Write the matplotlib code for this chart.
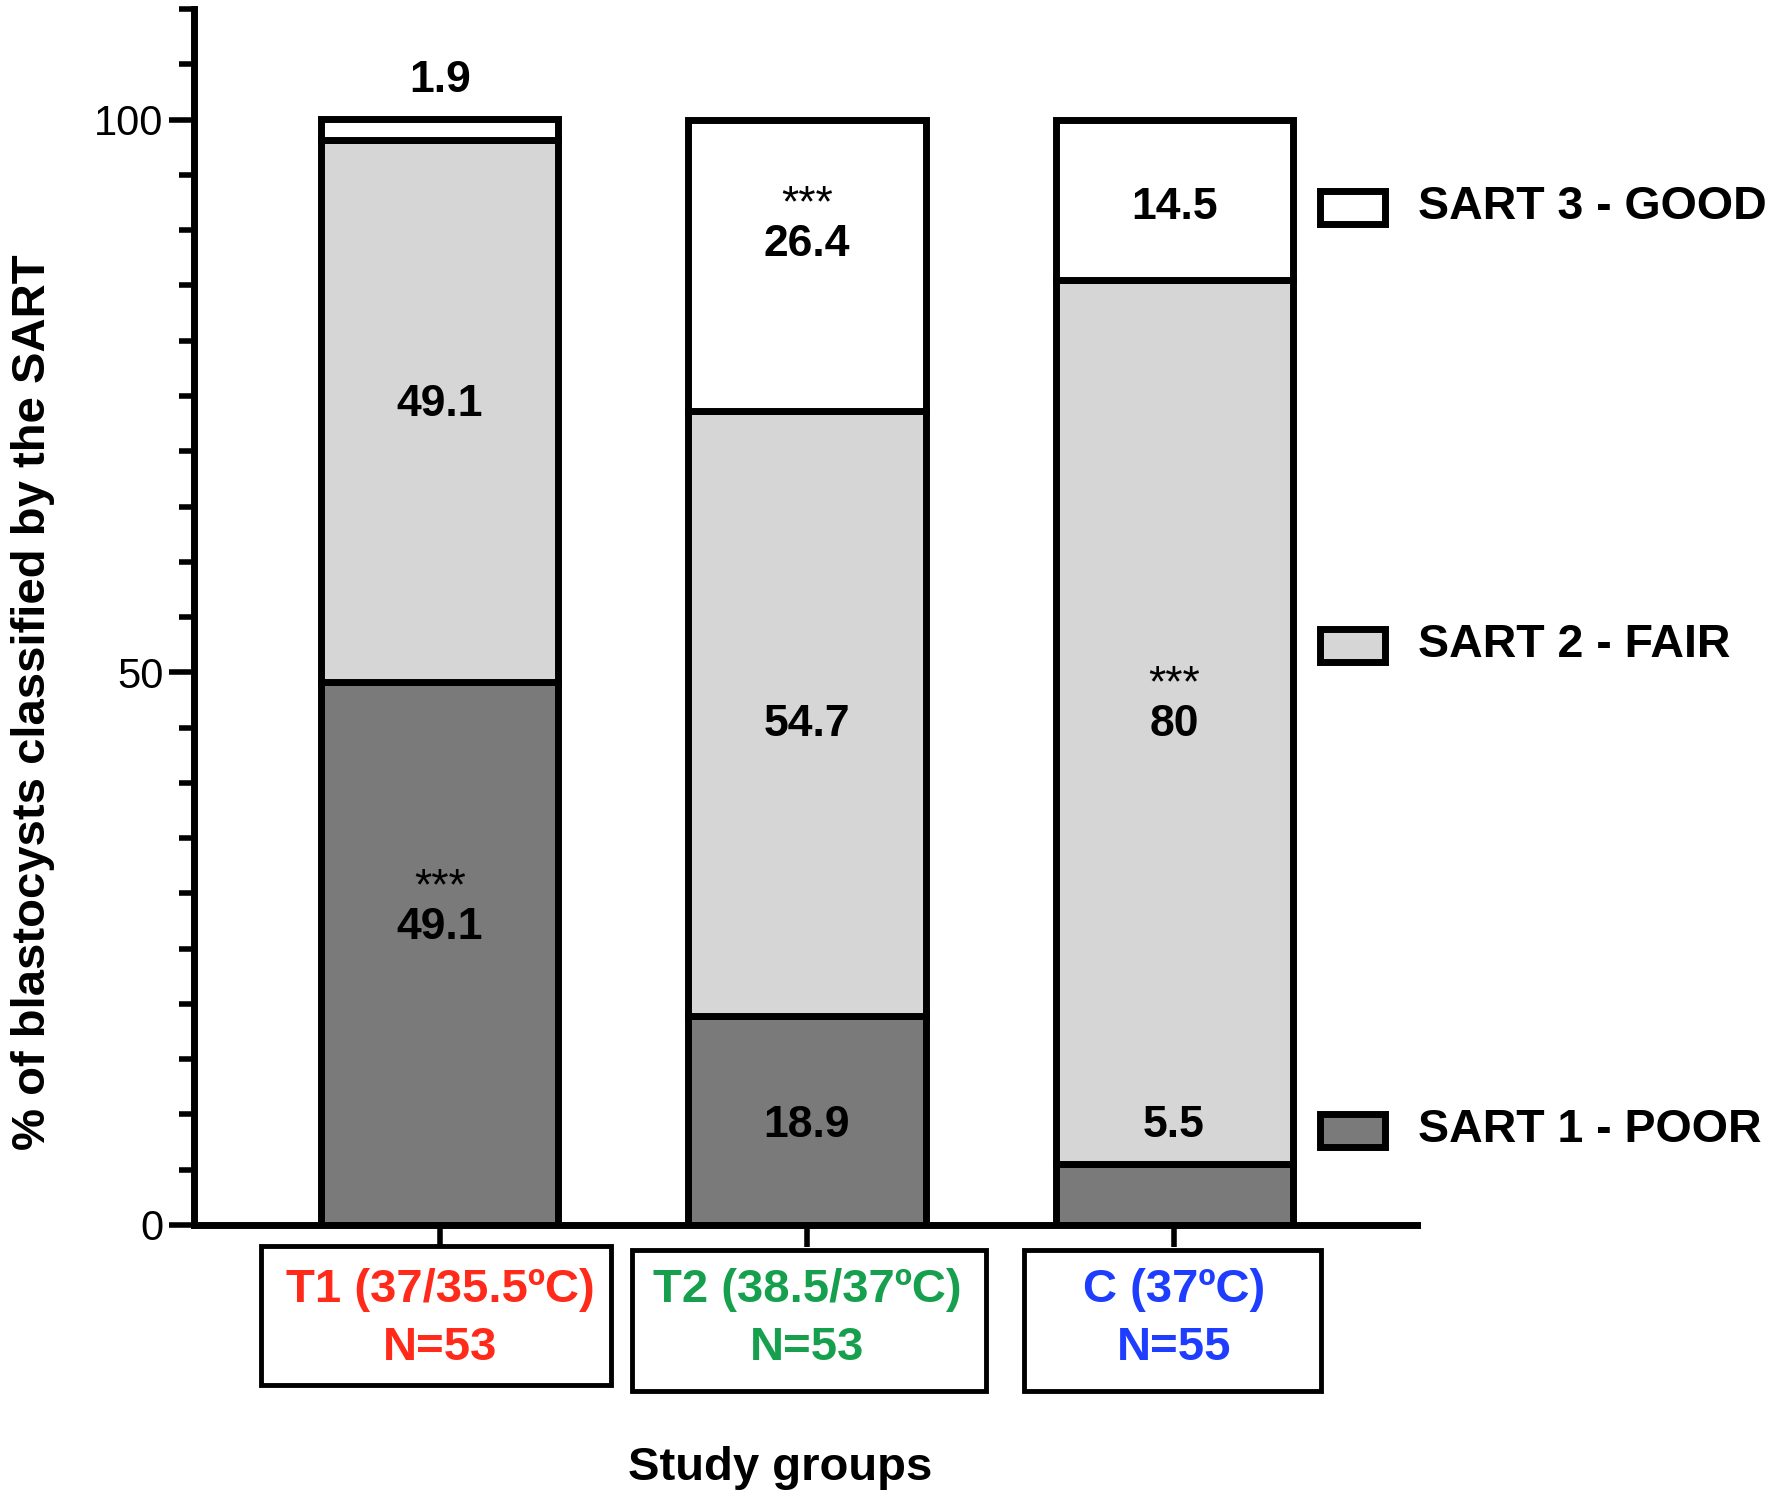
import matplotlib
matplotlib.use("Agg")
import matplotlib.pyplot as plt
from matplotlib.patches import Rectangle
import numpy as np

# data
groups = ["T1 (37/35.5ºC)\nN=53", "T2 (38.5/37ºC)\nN=53", "C (37ºC)\nN=55"]
group_colors = ["#ff2a1a", "#16a04e", "#1f3dff"]
poor = [49.1, 18.9, 5.5]
fair = [49.1, 54.7, 80.0]
good = [1.9, 26.4, 14.5]
series_names = ["SART 1 - POOR", "SART 2 - FAIR", "SART 3 - GOOD"]
series_colors = ["#7a7a7a", "#d6d6d6", "#ffffff"]

# value labels: (group index, y position, text, with stars)
labels = [
    (0, 103.5, "1.9", False),
    (0, 74.2, "49.1", False),
    (0, 26.9, "49.1", True),
    (1, 88.7, "26.4", True),
    (1, 45.3, "54.7", False),
    (1, 9.0, "18.9", False),
    (2, 92.1, "14.5", False),
    (2, 45.3, "80", True),
    (2, 9.0, "5.5", False),
]

NARROW = ["Liberation Sans Narrow", "Liberation Sans", "DejaVu Sans"]
plt.rcParams['font.family'] = ["Liberation Sans", "DejaVu Sans"]

fig = plt.figure(figsize=(17.7, 15.01), dpi=100)
ax = fig.add_axes([0.1096, 0.1839, 0.691, 0.810])

x = np.arange(len(groups))
width = 0.646
lw = 5
bottom = np.zeros(len(groups))
handles = []
for vals, name, col in zip([poor, fair, good], series_names, series_colors):
    b = ax.bar(x, vals, width, bottom=bottom, color=col, edgecolor="black",
               linewidth=lw, label=name, zorder=2)
    handles.append(b)
    bottom += np.array(vals)

for gi, yv, txt, stars in labels:
    ax.text(x[gi], yv, txt, ha="center", va="center", fontsize=32,
            fontweight="bold", zorder=3)
    if stars:
        ax.text(x[gi], yv + 3.6, "***", ha="center", va="center",
                fontsize=32, zorder=3)

ax.set_xlim(-0.67, 2.662)
ax.set_ylim(0, 110)
ax.set_yticks([0, 50, 100])
ax.set_yticks(np.arange(0, 111, 5), minor=True)
ax.set_yticklabels(["0", "50", "100"], family=NARROW, fontsize=30)
ax.tick_params(axis="y", which="major", length=18, width=4, pad=4)
ax.tick_params(axis="y", which="minor", length=11, width=4)

ax.set_xticks(x)
ax.set_xticklabels(groups, family=NARROW, fontsize=34, fontweight="bold",
                   linespacing=1.4)
for lab, c in zip(ax.get_xticklabels(), group_colors):
    lab.set_color(c)
ax.tick_params(axis="x", length=16, width=4, pad=15)

# boxes round the group labels
box_x = [(-0.01 - 0.477, 0.954), (1.005 - 0.482, 0.965), (1.995 - 0.405, 0.81)]
box_y = [(-0.132, 0.115), (-0.1365, 0.116), (-0.1365, 0.116)]
for (bx, bw), (by, bh) in zip(box_x, box_y):
    ax.add_patch(Rectangle((bx, by), bw, bh, transform=ax.get_xaxis_transform(),
                           fill=False, edgecolor="black", linewidth=3.5,
                           clip_on=False, zorder=1))

for side in ["top", "right"]:
    ax.spines[side].set_visible(False)
for side in ["left", "bottom"]:
    ax.spines[side].set_linewidth(5)

ax.set_ylabel("% of blastocysts classified by the SART", family=NARROW,
              fontsize=34, fontweight="bold")
ax.yaxis.set_label_coords(-0.114, 0.43)
fig.text(0.441, 0.022, "Study groups", ha="center", va="center",
         family=NARROW, fontsize=34, fontweight="bold")

# legend entries placed beside their own segment, as in the original
leg_y = [0.753, 0.430, 0.138]
for h, name, ly in zip(handles, series_names, leg_y):
    fig.patches.append(Rectangle((0.7455, 1 - ly - 0.011), 0.037, 0.022,
                                 transform=fig.transFigure,
                                 facecolor=h.patches[0].get_facecolor(),
                                 edgecolor="black", linewidth=5))
    fig.text(0.801, 1 - ly, name, ha="left", va="center", fontsize=33.5,
             fontweight="bold")

fig.savefig("out.png", dpi=100)
